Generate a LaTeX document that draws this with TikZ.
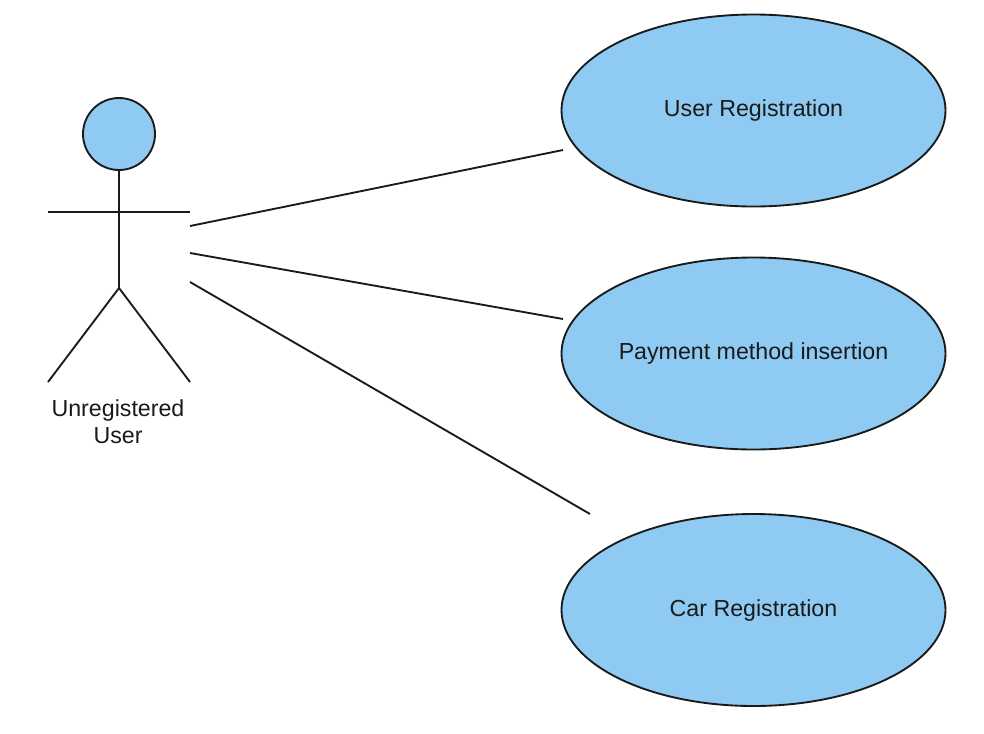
\documentclass[tikz,border=0pt]{standalone}
\usepackage{fontspec}
\setmainfont{Liberation Sans}
\usetikzlibrary{shapes.geometric, positioning}
\definecolor{usecaseblue}{HTML}{8ECAF2}
\definecolor{inkdark}{HTML}{1A1A1A}
\tikzset{
  usecase/.style = {
    draw=inkdark, line width=1.4pt, ellipse, fill=usecaseblue, minimum width=288pt, minimum height=144pt,
    inner sep=0pt, text=inkdark, font=\fontsize{17.4pt}{20pt}\selectfont
  },
  stick/.style = {draw=inkdark, line width=1.4pt}
}
\begin{document}
\begin{tikzpicture}[x=0.75pt, y=-0.75pt]

  \useasboundingbox (0,0) rectangle (984,733);
  \fill[white] (0,0) rectangle (984,733);

  % Use cases
  \node[usecase] (registration) at (753.5,110.5) {User Registration};
  \node[usecase] (payment) at (753.5,353.5) {Payment method insertion};
  \node[usecase] (car) at (753.5,610) {Car Registration};

  % Actor
  \node[stick, circle, fill=usecaseblue, minimum size=54pt, inner sep=0pt] (head) at (119,134) {};
  \coordinate (hip) at (119,288);
  \coordinate (armleft) at (48,212);
  \coordinate (armright) at (190,212);
  \coordinate (footleft) at (48,382);
  \coordinate (footright) at (190,382);
  \draw[stick] (head) -- (hip);
  \draw[stick] (armleft) -- (armright);
  \draw[stick] (footleft) -- (hip) -- (footright);
  \node[align=center, text=inkdark, font=\fontsize{17.4pt}{20pt}\selectfont] (actor) at (118,422) {Unregistered\\User};

  % Links
  \coordinate (linkone) at (190,226);
  \coordinate (linktwo) at (190,253);
  \coordinate (linkthree) at (190,282);
  \coordinate (endone) at (563,150);
  \coordinate (endtwo) at (563,319);
  \coordinate (endthree) at (590,514);
  \draw[stick] (linkone) -- (endone);
  \draw[stick] (linktwo) -- (endtwo);
  \draw[stick] (linkthree) -- (endthree);

\end{tikzpicture}
\end{document}
